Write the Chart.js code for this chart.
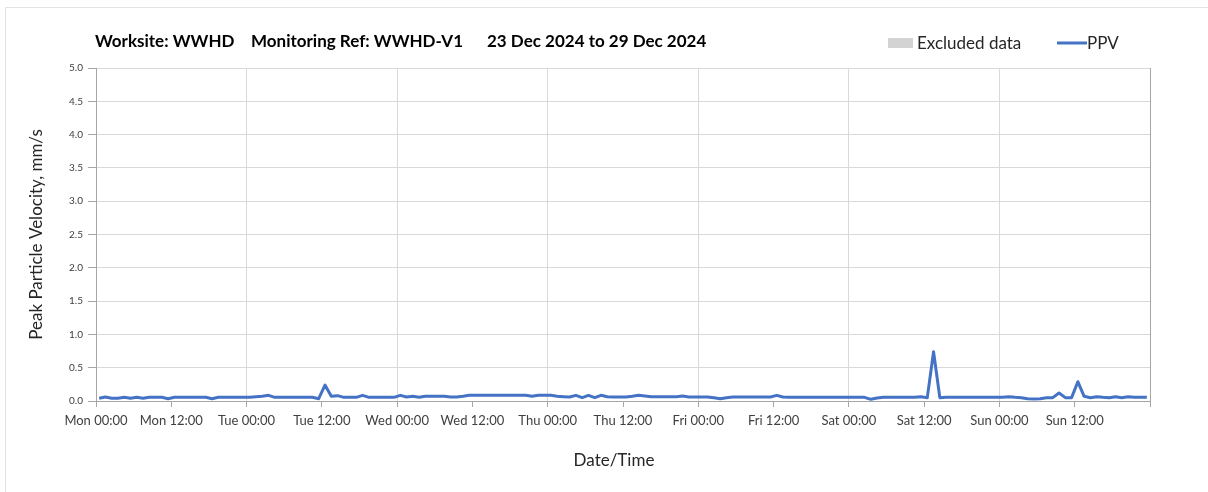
<!DOCTYPE html>
<html>
<head>
<meta charset="utf-8">
<script src="https://cdn.jsdelivr.net/npm/chart.js@4.4.1/dist/chart.umd.min.js"></script>
<style>
  html, body { margin: 0; padding: 0; background: #fff; }
  #wrap { position: relative; width: 1208px; height: 492px; }
</style>
</head>
<body>
<div id="wrap"><canvas id="ppvChart" width="1208" height="492"></canvas></div>
<script>
// Week of 23 Dec 2024, hourly readings (hour 0 = Mon 00:00)
const dayNames = ['Mon', 'Tue', 'Wed', 'Thu', 'Fri', 'Sat', 'Sun'];
const firstSampleHour = 0.5;

// Peak particle velocity, mm/s - one row per day
const ppvMon = [0.04, 0.06, 0.04, 0.04, 0.055, 0.04, 0.055, 0.04, 0.055, 0.055, 0.055, 0.035,
                0.055, 0.055, 0.055, 0.055, 0.055, 0.055, 0.035, 0.055, 0.055, 0.055, 0.055, 0.055];
const ppvTue = [0.055, 0.065, 0.07, 0.085, 0.055, 0.055, 0.055, 0.055, 0.055, 0.055, 0.055, 0.035,
                0.24, 0.07, 0.08, 0.055, 0.055, 0.055, 0.085, 0.055, 0.055, 0.055, 0.055, 0.055];
const ppvWed = [0.085, 0.06, 0.07, 0.055, 0.07, 0.07, 0.07, 0.07, 0.06, 0.06, 0.07, 0.085,
                0.085, 0.085, 0.085, 0.085, 0.085, 0.085, 0.085, 0.085, 0.085, 0.07, 0.085, 0.085];
const ppvThu = [0.085, 0.07, 0.065, 0.06, 0.085, 0.05, 0.085, 0.05, 0.085, 0.065, 0.06, 0.06,
                0.06, 0.07, 0.085, 0.075, 0.065, 0.065, 0.065, 0.065, 0.065, 0.075, 0.06, 0.06];
const ppvFri = [0.06, 0.06, 0.05, 0.035, 0.05, 0.06, 0.06, 0.06, 0.06, 0.06, 0.06, 0.06,
                0.085, 0.06, 0.055, 0.055, 0.055, 0.055, 0.055, 0.055, 0.055, 0.055, 0.055, 0.055];
const ppvSat = [0.055, 0.055, 0.055, 0.025, 0.045, 0.055, 0.055, 0.055, 0.055, 0.055, 0.055, 0.065,
                0.05, 0.74, 0.05, 0.055, 0.055, 0.055, 0.055, 0.055, 0.055, 0.055, 0.055, 0.055];
const ppvSun = [0.055, 0.065, 0.055, 0.05, 0.035, 0.03, 0.035, 0.05, 0.05, 0.12, 0.05, 0.05,
                0.29, 0.07, 0.05, 0.065, 0.055, 0.05, 0.065, 0.05, 0.065, 0.055, 0.055, 0.055];

const yTicks = [0, 0.5, 1, 1.5, 2, 2.5, 3, 3.5, 4, 4.5, 5];

const ppvValues = [].concat(ppvMon, ppvTue, ppvWed, ppvThu, ppvFri, ppvSat, ppvSun);
const points = ppvValues.map((v, i) => ({ x: firstSampleHour + i, y: v }));

const FONT = 'Lato, "Open Sans", sans-serif';
const BLUE = '#4472C4';
const AXIS = '#a6a6a6';
const GRID = '#d9d9d9';

// title, legend, x title and the outer frame are drawn straight onto the canvas
const decorations = {
    id: 'decorations',
    beforeDraw(chart) {
        const ctx = chart.ctx;
        ctx.save();
        ctx.fillStyle = '#fff';
        ctx.fillRect(0, 0, chart.width, chart.height);
        ctx.strokeStyle = '#e3e3e3';
        ctx.lineWidth = 1;
        ctx.strokeRect(5.5, 7.5, chart.width, chart.height);
        ctx.restore();
    },
    afterDraw(chart) {
        const ctx = chart.ctx;
        ctx.save();
        ctx.textBaseline = 'alphabetic';
        ctx.fillStyle = '#000';
        ctx.font = 'bold 17px ' + FONT;
        ctx.fillText('Worksite: WWHD', 95, 47);
        ctx.fillText('Monitoring Ref: WWHD-V1', 251, 47);
        ctx.fillText('23 Dec 2024 to 29 Dec 2024', 487, 47);

        ctx.fillStyle = '#d3d3d3';
        ctx.fillRect(888, 38, 25, 10);
        ctx.fillStyle = '#262626';
        ctx.font = '17px ' + FONT;
        ctx.fillText('Excluded data', 917, 49);
        ctx.strokeStyle = BLUE;
        ctx.lineWidth = 3;
        ctx.beginPath();
        ctx.moveTo(1057, 43);
        ctx.lineTo(1087, 43);
        ctx.stroke();
        ctx.fillText('PPV', 1087, 49);

        ctx.textAlign = 'center';
        ctx.textBaseline = 'middle';
        ctx.fillText('Date/Time', 614, 461);
        ctx.restore();
    }
};

new Chart(document.getElementById('ppvChart'), {
    type: 'line',
    data: {
        datasets: [{
            label: 'PPV',
            data: points,
            borderColor: BLUE,
            borderWidth: 3,
            pointRadius: 0,
            tension: 0,
            borderJoinStyle: 'round',
            fill: false
        }]
    },
    options: {
        responsive: false,
        animation: false,
        events: [],
        layout: { padding: { top: 68, right: 58, left: 0, bottom: 0 } },
        plugins: {
            legend: { display: false },
            title: { display: false },
            tooltip: { enabled: false }
        },
        scales: {
            x: {
                type: 'linear',
                min: 0,
                max: 168,
                afterFit: (scale) => { scale.height = 91; },
                ticks: {
                    stepSize: 12,
                    autoSkip: false,
                    maxRotation: 0,
                    padding: 6,
                    color: '#404040',
                    font: { family: FONT, size: 13 },
                    callback: (v) => {
                        if (v >= 168) return '';
                        return dayNames[Math.floor(v / 24)] + (v % 24 === 0 ? ' 00:00' : ' 12:00');
                    }
                },
                grid: {
                    color: (c) => {
                        const v = c.tick.value;
                        if (v === 168) return AXIS;
                        return (v % 24 === 0 && v > 0) ? GRID : 'rgba(0,0,0,0)';
                    },
                    tickColor: AXIS,
                    tickLength: 6
                },
                border: { color: AXIS }
            },
            y: {
                min: 0,
                max: 5,
                afterFit: (scale) => { scale.width = 96; },
                afterBuildTicks: (scale) => { scale.ticks = yTicks.map(v => ({ value: v })); },
                ticks: {
                    padding: 5,
                    color: '#404040',
                    font: { family: FONT, size: 10 },
                    callback: (v) => v.toFixed(1)
                },
                grid: { color: GRID, tickColor: AXIS, tickLength: 8 },
                border: { color: AXIS },
                title: {
                    display: true,
                    text: 'Peak Particle Velocity, mm/s',
                    color: '#262626',
                    font: { family: FONT, size: 17 },
                    padding: { top: 26 }
                }
            }
        }
    },
    plugins: [decorations]
});
</script>
</body>
</html>
